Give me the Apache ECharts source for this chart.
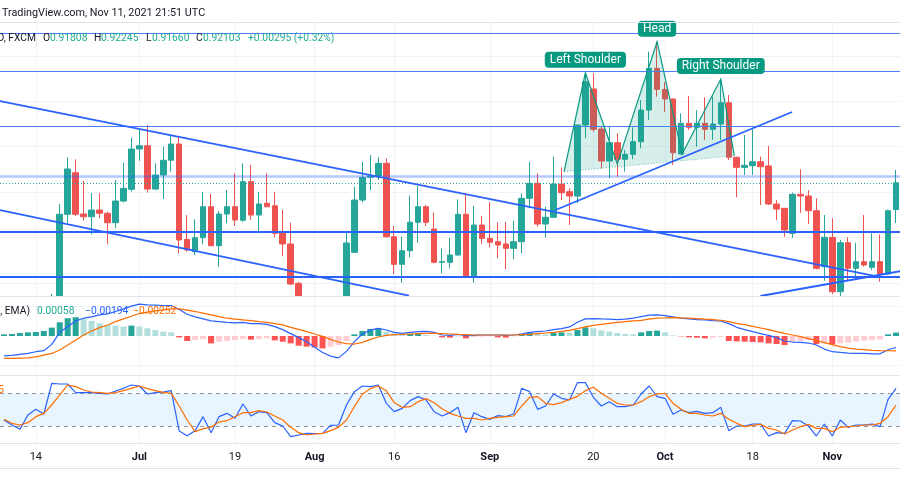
<!DOCTYPE html>
<html>
<head>
<meta charset="utf-8">
<script src="https://cdn.jsdelivr.net/npm/echarts@6/dist/echarts.min.js"></script>
<style>
  html, body { margin: 0; padding: 0; background: #fff; }
  #chart { width: 900px; height: 500px; }
</style>
</head>
<body>
<div id="chart"></div>
<script>
// USD/CHF daily (FXCM), Jun 8 - Nov 11 2021, trading days only
const firstDay = '2021-06-08';
const lastDay = '2021-11-11';
const dates = [];
for (let d = new Date(firstDay + 'T00:00:00Z'); d <= new Date(lastDay + 'T00:00:00Z'); d.setUTCDate(d.getUTCDate() + 1)) {
  const wd = d.getUTCDay();
  if (wd !== 0 && wd !== 6) dates.push(d.toISOString().slice(0, 10));
}

// time axis labels
const tickLabels = {
  '2021-06-14': '14', '2021-07-01': 'Jul', '2021-07-19': '19', '2021-08-02': 'Aug',
  '2021-08-16': '16', '2021-09-01': 'Sep', '2021-09-20': '20', '2021-10-01': 'Oct',
  '2021-10-18': '18', '2021-11-01': 'Nov'
};

// [open, close, low, high]
const candles = [
  [0.8985, 0.8968, 0.8962, 0.8998], [0.8968, 0.8977, 0.8955, 0.8985], [0.8977, 0.8958, 0.8945, 0.8990],
  [0.8958, 0.8985, 0.8952, 0.8995], [0.8985, 0.8982, 0.8968, 0.8999], [0.8982, 0.8972, 0.8966, 0.8992],
  [0.8972, 0.9078, 0.8960, 0.9088], [0.9078, 0.91756, 0.9070, 0.91869], [0.91756, 0.92255, 0.91657, 0.92384],
  [0.92214, 0.91756, 0.91737, 0.92362], [0.91759, 0.91729, 0.91685, 0.92123], [0.91729, 0.91803, 0.91535, 0.91990],
  [0.91803, 0.91767, 0.91712, 0.91990], [0.91767, 0.91663, 0.91425, 0.91784], [0.91663, 0.91902, 0.91602, 0.92134],
  [0.91902, 0.92042, 0.91888, 0.92324], [0.92031, 0.92475, 0.92005, 0.92599], [0.92475, 0.92511, 0.92346, 0.92692],
  [0.92511, 0.92034, 0.91994, 0.92739], [0.92034, 0.92189, 0.92023, 0.92317], [0.92189, 0.92351, 0.91924, 0.92500],
  [0.92351, 0.92530, 0.92225, 0.92637], [0.92530, 0.91473, 0.91326, 0.92610], [0.91480, 0.91363, 0.91344, 0.91748],
  [0.91344, 0.91498, 0.91307, 0.91701], [0.91498, 0.91839, 0.91425, 0.92001], [0.91839, 0.91410, 0.91405, 0.91979],
  [0.91410, 0.91759, 0.91179, 0.91792], [0.91759, 0.91839, 0.91657, 0.92023], [0.91839, 0.91693, 0.91627, 0.92207],
  [0.91690, 0.92115, 0.91674, 0.92317], [0.92115, 0.91748, 0.91693, 0.92299], [0.91748, 0.91869, 0.91546, 0.92005],
  [0.91877, 0.91839, 0.91835, 0.92207], [0.91850, 0.91546, 0.91502, 0.92005], [0.91546, 0.91429, 0.91296, 0.91803],
  [0.91429, 0.90988, 0.90977, 0.91663], [0.90996, 0.9062, 0.9055, 0.91010], [0.9062, 0.9050, 0.9018, 0.9075],
  [0.9055, 0.9040, 0.9033, 0.9072], [0.9040, 0.9048, 0.9025, 0.9062], [0.9048, 0.9060, 0.9018, 0.9070],
  [0.9060, 0.9055, 0.9043, 0.9080], [0.9055, 0.91440, 0.9050, 0.91564], [0.91337, 0.91913, 0.91330, 0.92060],
  [0.91913, 0.92163, 0.91888, 0.92332], [0.92163, 0.92178, 0.92023, 0.92409], [0.92178, 0.92317, 0.92134, 0.92384],
  [0.92317, 0.91509, 0.91500, 0.92373], [0.91509, 0.91205, 0.91098, 0.91627], [0.91205, 0.91355, 0.91002, 0.91509],
  [0.91355, 0.91668, 0.91282, 0.91961], [0.91668, 0.91839, 0.91443, 0.92067], [0.91839, 0.91668, 0.91627, 0.91858],
  [0.91594, 0.91227, 0.91216, 0.91773], [0.91227, 0.91234, 0.91106, 0.91381], [0.91227, 0.91307, 0.91161, 0.91495],
  [0.91307, 0.91756, 0.91300, 0.91921], [0.91756, 0.91076, 0.91070, 0.91987], [0.91076, 0.91638, 0.91002, 0.91850],
  [0.91638, 0.91491, 0.91429, 0.91740], [0.91491, 0.91447, 0.91392, 0.91888], [0.91454, 0.91418, 0.91271, 0.91668],
  [0.91429, 0.91381, 0.91150, 0.91674], [0.91381, 0.91454, 0.91263, 0.91682], [0.91454, 0.91932, 0.91326, 0.91987],
  [0.91932, 0.92097, 0.91822, 0.92335], [0.92097, 0.91649, 0.91619, 0.92207], [0.91649, 0.91723, 0.91502, 0.91839],
  [0.91723, 0.92089, 0.91715, 0.92390], [0.92089, 0.91994, 0.91913, 0.92273], [0.92005, 0.91957, 0.91638, 0.92042],
  [0.91957, 0.92739, 0.91877, 0.92745], [0.92739, 0.93216, 0.92593, 0.93315], [0.93136, 0.92692, 0.92662, 0.93309],
  [0.92695, 0.92343, 0.92262, 0.92721], [0.92343, 0.92544, 0.92152, 0.92721], [0.92544, 0.92362, 0.92170, 0.92648],
  [0.92362, 0.92417, 0.92225, 0.92464], [0.92417, 0.92555, 0.92362, 0.92714], [0.92555, 0.92904, 0.92483, 0.93015],
  [0.92904, 0.93364, 0.92794, 0.93547], [0.93364, 0.93132, 0.93051, 0.93657], [0.93132, 0.93026, 0.92882, 0.93213],
  [0.93026, 0.92434, 0.92299, 0.93030], [0.92420, 0.92758, 0.92415, 0.92868], [0.92758, 0.92714, 0.92684, 0.93059],
  [0.92714, 0.92758, 0.92500, 0.92904], [0.92758, 0.92692, 0.92574, 0.93044], [0.92692, 0.92750, 0.92574, 0.93051],
  [0.92750, 0.92985, 0.92574, 0.93235], [0.92985, 0.92384, 0.92354, 0.93070], [0.92384, 0.92273, 0.91943, 0.92390],
  [0.92273, 0.92295, 0.92189, 0.92629], [0.92291, 0.92335, 0.92189, 0.92692], [0.92335, 0.92280, 0.91858, 0.92390],
  [0.92288, 0.91869, 0.91858, 0.92508], [0.91869, 0.91814, 0.91693, 0.91913], [0.91822, 0.91583, 0.91509, 0.91825],
  [0.91546, 0.91976, 0.91498, 0.91994], [0.91976, 0.91957, 0.91773, 0.92251], [0.91957, 0.91795, 0.91649, 0.92023],
  [0.91795, 0.91161, 0.91150, 0.91932], [0.91179, 0.91502, 0.91024, 0.91748], [0.91502, 0.90903, 0.90878, 0.91712],
  [0.90903, 0.91443, 0.90856, 0.91473], [0.91443, 0.91161, 0.91024, 0.91502], [0.91161, 0.91234, 0.91051, 0.91443],
  [0.91234, 0.91197, 0.91179, 0.91748], [0.91172, 0.91234, 0.91142, 0.91546], [0.91234, 0.91098, 0.91013, 0.91535],
  [0.91098, 0.91795, 0.91087, 0.91808], [0.91808, 0.92103, 0.91660, 0.92245]
];

// MACD (12, 26, close, 9)
const macdLine = [
  -0.00335, -0.00329, -0.00312, -0.00295, -0.00266, -0.00249, -0.00142, 0.00062, 0.00159, 0.00255,
  0.00301, 0.00323, 0.00357, 0.00374, 0.00414, 0.00459, 0.00505, 0.00539, 0.00527, 0.00522,
  0.00516, 0.00516, 0.00448, 0.00369, 0.00323, 0.00289, 0.00255, 0.00244, 0.00232, 0.00221,
  0.00232, 0.00210, 0.00210, 0.00198, 0.00159, 0.00108, 0.00040, -0.00028, -0.00096, -0.00190,
  -0.00280, -0.00340, -0.00370, -0.00260, -0.00096, 0.00034, 0.00100, 0.00130, 0.00102, 0.00062,
  0.00045, 0.00062, 0.00074, 0.00079, 0.00062, 0.00017, 0.00011, 0.00028, 0.00006, 0.00011,
  0.00017, 0.00017, 0.00017, 0.00011, 0.00017, 0.00034, 0.00062, 0.00074, 0.00085, 0.00108,
  0.00125, 0.00153, 0.00232, 0.00289, 0.00295, 0.00289, 0.00284, 0.00278, 0.00284, 0.00301,
  0.00329, 0.00352, 0.00357, 0.00346, 0.00323, 0.00301, 0.00289, 0.00278, 0.00272, 0.00261,
  0.00255, 0.00210, 0.00147, 0.00108, 0.00074, 0.00040, 0.00011, -0.00028, -0.00085, -0.00102,
  -0.00108, -0.00119, -0.00153, -0.00221, -0.00266, -0.00278, -0.00289, -0.00295, -0.00295, -0.00301,
  -0.00301, -0.00232, -0.00194
];
const signalLine = [
  -0.00380, -0.00380, -0.00374, -0.00369, -0.00352, -0.00323, -0.00295, -0.00238, -0.00153, -0.00068,
  0.00017, 0.00085, 0.00142, 0.00187, 0.00244, 0.00289, 0.00335, 0.00380, 0.00403, 0.00425,
  0.00442, 0.00459, 0.00459, 0.00437, 0.00414, 0.00386, 0.00357, 0.00329, 0.00301, 0.00284,
  0.00272, 0.00261, 0.00244, 0.00232, 0.00210, 0.00187, 0.00147, 0.00113, 0.00074, 0.00034,
  -0.00006, -0.00057, -0.00102, -0.00130, -0.00136, -0.00108, -0.00057, -0.00017, 0.00011, 0.00023,
  0.00028, 0.00034, 0.00040, 0.00045, 0.00045, 0.00040, 0.00034, 0.00028, 0.00023, 0.00017,
  0.00017, 0.00017, 0.00017, 0.00017, 0.00017, 0.00023, 0.00028, 0.00040, 0.00051, 0.00062,
  0.00079, 0.00096, 0.00125, 0.00153, 0.00181, 0.00198, 0.00215, 0.00232, 0.00244, 0.00255,
  0.00266, 0.00284, 0.00301, 0.00306, 0.00312, 0.00306, 0.00301, 0.00295, 0.00284, 0.00278,
  0.00266, 0.00244, 0.00215, 0.00193, 0.00164, 0.00136, 0.00108, 0.00074, 0.00045, 0.00017,
  -0.00011, -0.00045, -0.00079, -0.00113, -0.00147, -0.00181, -0.00204, -0.00221, -0.00232, -0.00244,
  -0.00249, -0.00250, -0.00252
];
const macdHist = [
  0.00028, 0.00034, 0.00051, 0.00062, 0.00068, 0.00085, 0.00142, 0.00232, 0.00301, 0.00318,
  0.00289, 0.00255, 0.00215, 0.00187, 0.00176, 0.00159, 0.00176, 0.00159, 0.00130, 0.00102,
  0.00074, 0.00062, -0.00023, -0.00085, -0.00068, -0.00051, -0.00125, -0.00096, -0.00085, -0.00068,
  -0.00051, -0.00062, -0.00051, -0.00040, -0.00074, -0.00096, -0.00125, -0.00164, -0.00181, -0.00193,
  -0.00210, -0.00181, -0.00153, -0.00085, 0.00028, 0.00085, 0.00119, 0.00130, 0.00074, 0.00045,
  0.00028, 0.00034, 0.00040, 0.00017, 0.00006, -0.00023, -0.00028, -0.00011, -0.00040, -0.00017,
  -0.00011, -0.00006, -0.00023, -0.00028, -0.00006, 0.00040, 0.00062, 0.00040, 0.00028, 0.00057,
  0.00062, 0.00057, 0.00102, 0.00147, 0.00130, 0.00096, 0.00074, 0.00051, 0.00034, 0.00028,
  0.00062, 0.00085, 0.00091, 0.00062, 0.00011, -0.00006, -0.00023, -0.00028, -0.00040, -0.00028,
  -0.00017, -0.00085, -0.00091, -0.00096, -0.00102, -0.00108, -0.00125, -0.00136, -0.00153, -0.00096,
  -0.00085, -0.00068, -0.00136, -0.00125, -0.00142, -0.00125, -0.00113, -0.00096, -0.00079, -0.00068,
  -0.00057, 0.00028, 0.00058
];

// RSI (14) and its moving average
const rsiLine = [
  37.35, 31.22, 25.92, 43.47, 50.41, 44.69, 82.24, 81.43, 81.43, 70.82,
  70.82, 70.82, 70.00, 69.18, 72.86, 76.12, 80.20, 78.98, 69.18, 70.82,
  71.63, 73.26, 23.88, 18.16, 24.29, 41.43, 21.84, 41.43, 45.51, 39.39,
  56.94, 42.24, 47.55, 46.33, 34.08, 30.00, 16.94, 18.98, 21.02, 20.61,
  21.02, 30.82, 31.22, 55.71, 72.04, 78.98, 78.16, 80.20, 57.76, 47.55,
  51.63, 61.02, 65.92, 61.84, 47.55, 42.24, 46.33, 52.86, 21.84, 46.33,
  41.43, 38.16, 42.65, 41.43, 44.69, 76.12, 72.04, 50.41, 54.49, 69.18,
  63.88, 61.84, 83.06, 83.06, 65.10, 54.49, 59.80, 53.67, 53.67, 55.71,
  69.18, 78.98, 65.92, 63.88, 44.28, 49.59, 46.33, 47.96, 45.51, 46.33,
  52.86, 24.29, 30.00, 30.00, 32.45, 32.45, 17.76, 21.84, 21.02, 36.53,
  36.12, 30.00, 17.76, 32.45, 17.76, 37.35, 28.37, 31.22, 31.22, 32.45,
  29.18, 62.65, 76.12
];
const rsiMa = [
  38.16, 33.27, 31.22, 34.08, 41.43, 45.51, 55.71, 67.96, 80.20, 78.16,
  74.08, 71.63, 70.82, 70.00, 70.82, 73.26, 76.12, 78.98, 75.71, 73.26,
  71.22, 70.00, 54.49, 37.35, 23.06, 26.73, 28.37, 34.90, 36.53, 41.43,
  46.33, 46.33, 48.78, 47.14, 42.24, 37.35, 28.37, 21.84, 18.98, 20.20,
  21.02, 24.29, 28.37, 37.35, 53.67, 69.18, 75.71, 78.98, 73.26, 58.57,
  52.86, 53.67, 59.80, 63.47, 58.57, 51.22, 45.51, 42.24, 39.39, 39.39,
  37.35, 39.39, 40.61, 41.43, 42.24, 54.49, 65.10, 65.92, 57.76, 56.12,
  58.57, 62.65, 66.33, 73.26, 77.35, 70.00, 63.88, 57.76, 55.71, 55.71,
  59.80, 65.92, 69.18, 70.00, 57.76, 50.41, 45.51, 45.51, 43.47, 42.24,
  45.51, 38.16, 33.27, 29.18, 30.82, 32.04, 27.14, 25.10, 20.20, 25.10,
  29.18, 32.04, 27.14, 27.14, 23.06, 28.37, 29.18, 30.00, 31.22, 31.22,
  33.27, 41.43, 55.71
];

// drawn horizontal levels
const levels = [0.93753, 0.93331, 0.92726, 0.92180, 0.91564, 0.91070];
const priceGrid = [0.910, 0.915, 0.920, 0.925, 0.930, 0.935];
const macdGrid = [-0.005, 0.005];

// trendlines, x in bar index (fractional allowed), y in price
const trendLines = [
  [[-0.5, 0.93003], [109.9, 0.91067]],
  [[-0.5, 0.91802], [50.84, 0.90859]],
  [[69.24, 0.91803], [98.95, 0.92883]],
  [[94.97, 0.90856], [113, 0.91136]]
];

// head and shoulders pattern: start, left shoulder, neck, head, neck, right shoulder, end
const hsPoints = [
  [70.32, 0.92225], [73, 0.93315], [77, 0.92310], [82, 0.93657],
  [85.15, 0.92420], [90, 0.93246], [91.7, 0.92400]
];
const hsLabels = [[1, 'Left Shoulder'], [3, 'Head'], [5, 'Right Shoulder']];

const UP = '#26a69a', DOWN = '#ef5350', BLUE = '#2962ff', ORANGE = '#ff6d00';
const TEXT = '#131722', GRIDC = '#f0f3fa', SEP = '#e0e3eb';
const FONT = 'Roboto, "DejaVu Sans", sans-serif';

const last = candles[candles.length - 1];
const chg = last[1] - last[0];
const fmt = v => (v < 0 ? '\u2212' : '') + Math.abs(v).toFixed(5);

const histData = macdHist.map((v, i) => {
  const prev = i > 0 ? macdHist[i - 1] : v;
  let c;
  if (v >= 0) c = v >= prev ? '#26a69a' : '#b2dfdb';
  else c = v <= prev ? '#ff5252' : '#ffcdd2';
  return { value: v, itemStyle: { color: c } };
});

const dateLines = Object.keys(tickLabels).map(d => ({ xAxis: d }));
function gridSeries(xi, yi, yVals, z) {
  return {
    type: 'line', xAxisIndex: xi, yAxisIndex: yi, data: [], z, silent: true,
    markLine: {
      z, silent: true, symbol: 'none', animation: false, label: { show: false }, precision: 6,
      lineStyle: { color: GRIDC, width: 1, type: 'solid' },
      data: dateLines.concat(yVals.map(v => ({ yAxis: v })))
    }
  };
}

function catAxis(gi, showLabels) {
  return {
    type: 'category', gridIndex: gi, data: dates, boundaryGap: true,
    axisLine: { show: false },
    axisTick: { show: false },
    splitLine: { show: false },
    axisLabel: showLabels ? {
      show: true, margin: 9, color: TEXT, fontFamily: FONT, fontSize: 11,
      interval: (i, v) => v in tickLabels,
      formatter: v => {
        const t = tickLabels[v] || '';
        return /^[A-Z]/.test(t) ? '{m|' + t + '}' : t;
      },
      rich: { m: { fontWeight: 'bold', fontSize: 11, fontFamily: FONT, color: TEXT } }
    } : { show: false }
  };
}

const levelStyle = [
  { color: '#4d7cff', width: 1 },
  { color: '#4d7cff', width: 1 },
  { color: '#4d7cff', width: 1 },
  { color: 'rgba(41,98,255,0.35)', width: 2.5 },
  { color: BLUE, width: 2 },
  { color: BLUE, width: 2 }
];

const legendY = 38;
const legendParts = [
  ['D, FXCM', 36, TEXT, 'right'], ['O', 43, TEXT], [last[0].toFixed(5), 50, '#22ab94'],
  ['H', 94, TEXT], [last[3].toFixed(5), 101, '#22ab94'],
  ['L', 146, TEXT], [last[2].toFixed(5), 152, '#22ab94'],
  ['C', 196, TEXT], [last[1].toFixed(5), 203, '#22ab94'],
  ['+' + chg.toFixed(5) + ' (+' + (chg / last[0] * 100).toFixed(2) + '%)', 248, '#22ab94']
];
const macdLegend = [
  [', EMA)', 30, TEXT, 'right'],
  [fmt(macdHist[macdHist.length - 1]), 37, '#22ab94'],
  [fmt(macdLine[macdLine.length - 1]), 85, BLUE],
  [fmt(signalLine[signalLine.length - 1]), 133, ORANGE]
];

const textEl = (text, x, y, color, size, align) => ({
  type: 'text', x, y, silent: true, z: 20,
  style: { text, fill: color, font: (size || 11) + 'px ' + FONT, verticalAlign: 'middle', align: align || 'left' }
});
const hLine = (y, color) => ({
  type: 'line', silent: true, z: 7, shape: { x1: 0, y1: y, x2: 900, y2: y }, style: { stroke: color, lineWidth: 1 }
});

const chart = echarts.init(document.getElementById('chart'), null, { renderer: 'canvas' });
chart.setOption({
  animation: false,
  backgroundColor: '#fff',
  grid: [
    { left: -8, right: -1, top: 22, height: 274 },
    { left: -8, right: -1, top: 297, height: 78 },
    { left: -8, right: -1, top: 376, height: 67 }
  ],
  xAxis: [
    catAxis(0, false),
    { type: 'value', gridIndex: 0, min: -0.5, max: dates.length - 0.5, show: false },
    catAxis(1, false),
    catAxis(2, true)
  ],
  yAxis: [
    { type: 'value', gridIndex: 0, min: 0.90856, max: 0.93874, show: false },
    { type: 'value', gridIndex: 1, min: -0.0066, max: 0.0066, show: false },
    { type: 'value', gridIndex: 2, min: 9.2, max: 91.2, show: false }
  ],
  graphic: [
    // lower panes sit above the price pane, so candles do not spill into them
    { type: 'rect', silent: true, z: 5, shape: { x: 0, y: 296.5, width: 900, height: 147 }, style: { fill: '#fff' } },
    hLine(22.5, SEP), hLine(296.5, SEP), hLine(375.5, SEP), hLine(443.5, SEP), hLine(468.5, SEP),
    textEl('TradingView.com, Nov 11, 2021 21:51 UTC', 2, 13, TEXT, 10.8),
    ...legendParts.map(p => textEl(p[0], p[1], legendY, p[2], 10.3, p[3])),
    ...macdLegend.map(p => textEl(p[0], p[1], 311, p[2], 10.3, p[3])),
    textEl('5', -2, 390, ORANGE, 10.5)
  ],
  series: [
    gridSeries(0, 0, priceGrid, 1),
    gridSeries(2, 1, macdGrid, 6),
    gridSeries(3, 2, [], 6),
    {
      name: 'USDCHF', type: 'candlestick', xAxisIndex: 0, yAxisIndex: 0, z: 2, clip: true,
      data: candles, barWidth: 6,
      itemStyle: { color: UP, color0: DOWN, borderColor: UP, borderColor0: DOWN, borderWidth: 1 },
      markLine: {
        z: 3, silent: true, symbol: 'none', animation: false, label: { show: false }, precision: 6,
        data: levels.map((v, k) => ({ yAxis: v, lineStyle: { color: levelStyle[k].color, width: levelStyle[k].width, type: 'solid' } }))
          .concat([{ yAxis: last[1], lineStyle: { color: UP, width: 1, type: [1, 2] } }])
      }
    },
    ...trendLines.map(tl => ({
      type: 'line', xAxisIndex: 1, yAxisIndex: 0, data: tl, showSymbol: false, silent: true, z: 4,
      lineStyle: { color: BLUE, width: 1.8 }, clip: true
    })),
    {
      type: 'custom', xAxisIndex: 1, yAxisIndex: 0, data: [0], z: 4, silent: true,
      renderItem: (params, api) => {
        const pts = hsPoints.map(p => api.coord(p));
        const kids = [
          { type: 'polygon', shape: { points: pts }, style: { fill: 'rgba(8,153,129,0.16)', stroke: null } },
          { type: 'line', shape: { x1: pts[0][0], y1: pts[0][1], x2: pts[6][0], y2: pts[6][1] },
            style: { stroke: 'rgba(8,153,129,0.6)', lineWidth: 1, lineDash: [1, 2] } },
          { type: 'polyline', shape: { points: pts }, style: { stroke: '#089981', lineWidth: 1.2, fill: null } }
        ];
        hsLabels.forEach(([k, text]) => {
          kids.push({
            type: 'text', x: pts[k][0], y: pts[k][1] - 5,
            style: {
              text, fill: '#fff', font: '12px ' + FONT, align: 'center', verticalAlign: 'bottom',
              backgroundColor: '#089981', padding: [2, 5, 2, 5], borderRadius: 4
            }
          });
        });
        return { type: 'group', children: kids };
      }
    },
    {
      name: 'Histogram', type: 'bar', xAxisIndex: 2, yAxisIndex: 1, data: histData,
      barWidth: 6, silent: true, z: 8
    },
    {
      name: 'MACD', type: 'line', xAxisIndex: 2, yAxisIndex: 1, data: macdLine, showSymbol: false,
      silent: true, z: 9, lineStyle: { color: BLUE, width: 1.2 }
    },
    {
      name: 'Signal', type: 'line', xAxisIndex: 2, yAxisIndex: 1, data: signalLine, showSymbol: false,
      silent: true, z: 9, lineStyle: { color: ORANGE, width: 1.2 }
    },
    {
      name: 'RSI', type: 'line', xAxisIndex: 3, yAxisIndex: 2, data: rsiLine, showSymbol: false,
      silent: true, z: 9, lineStyle: { color: BLUE, width: 1.2 },
      markArea: { z: 6, silent: true, itemStyle: { color: 'rgba(33,150,243,0.1)' }, data: [[{ yAxis: 30 }, { yAxis: 70 }]] },
      markLine: {
        z: 7, silent: true, symbol: 'none', animation: false, label: { show: false }, precision: 4,
        lineStyle: { color: '#9598a1', width: 1, type: [4, 4] },
        data: [{ yAxis: 70 }, { yAxis: 30 }]
      }
    },
    {
      name: 'RSI MA', type: 'line', xAxisIndex: 3, yAxisIndex: 2, data: rsiMa, showSymbol: false,
      silent: true, z: 9, lineStyle: { color: ORANGE, width: 1.2 }
    }
  ]
});
</script>
</body>
</html>
